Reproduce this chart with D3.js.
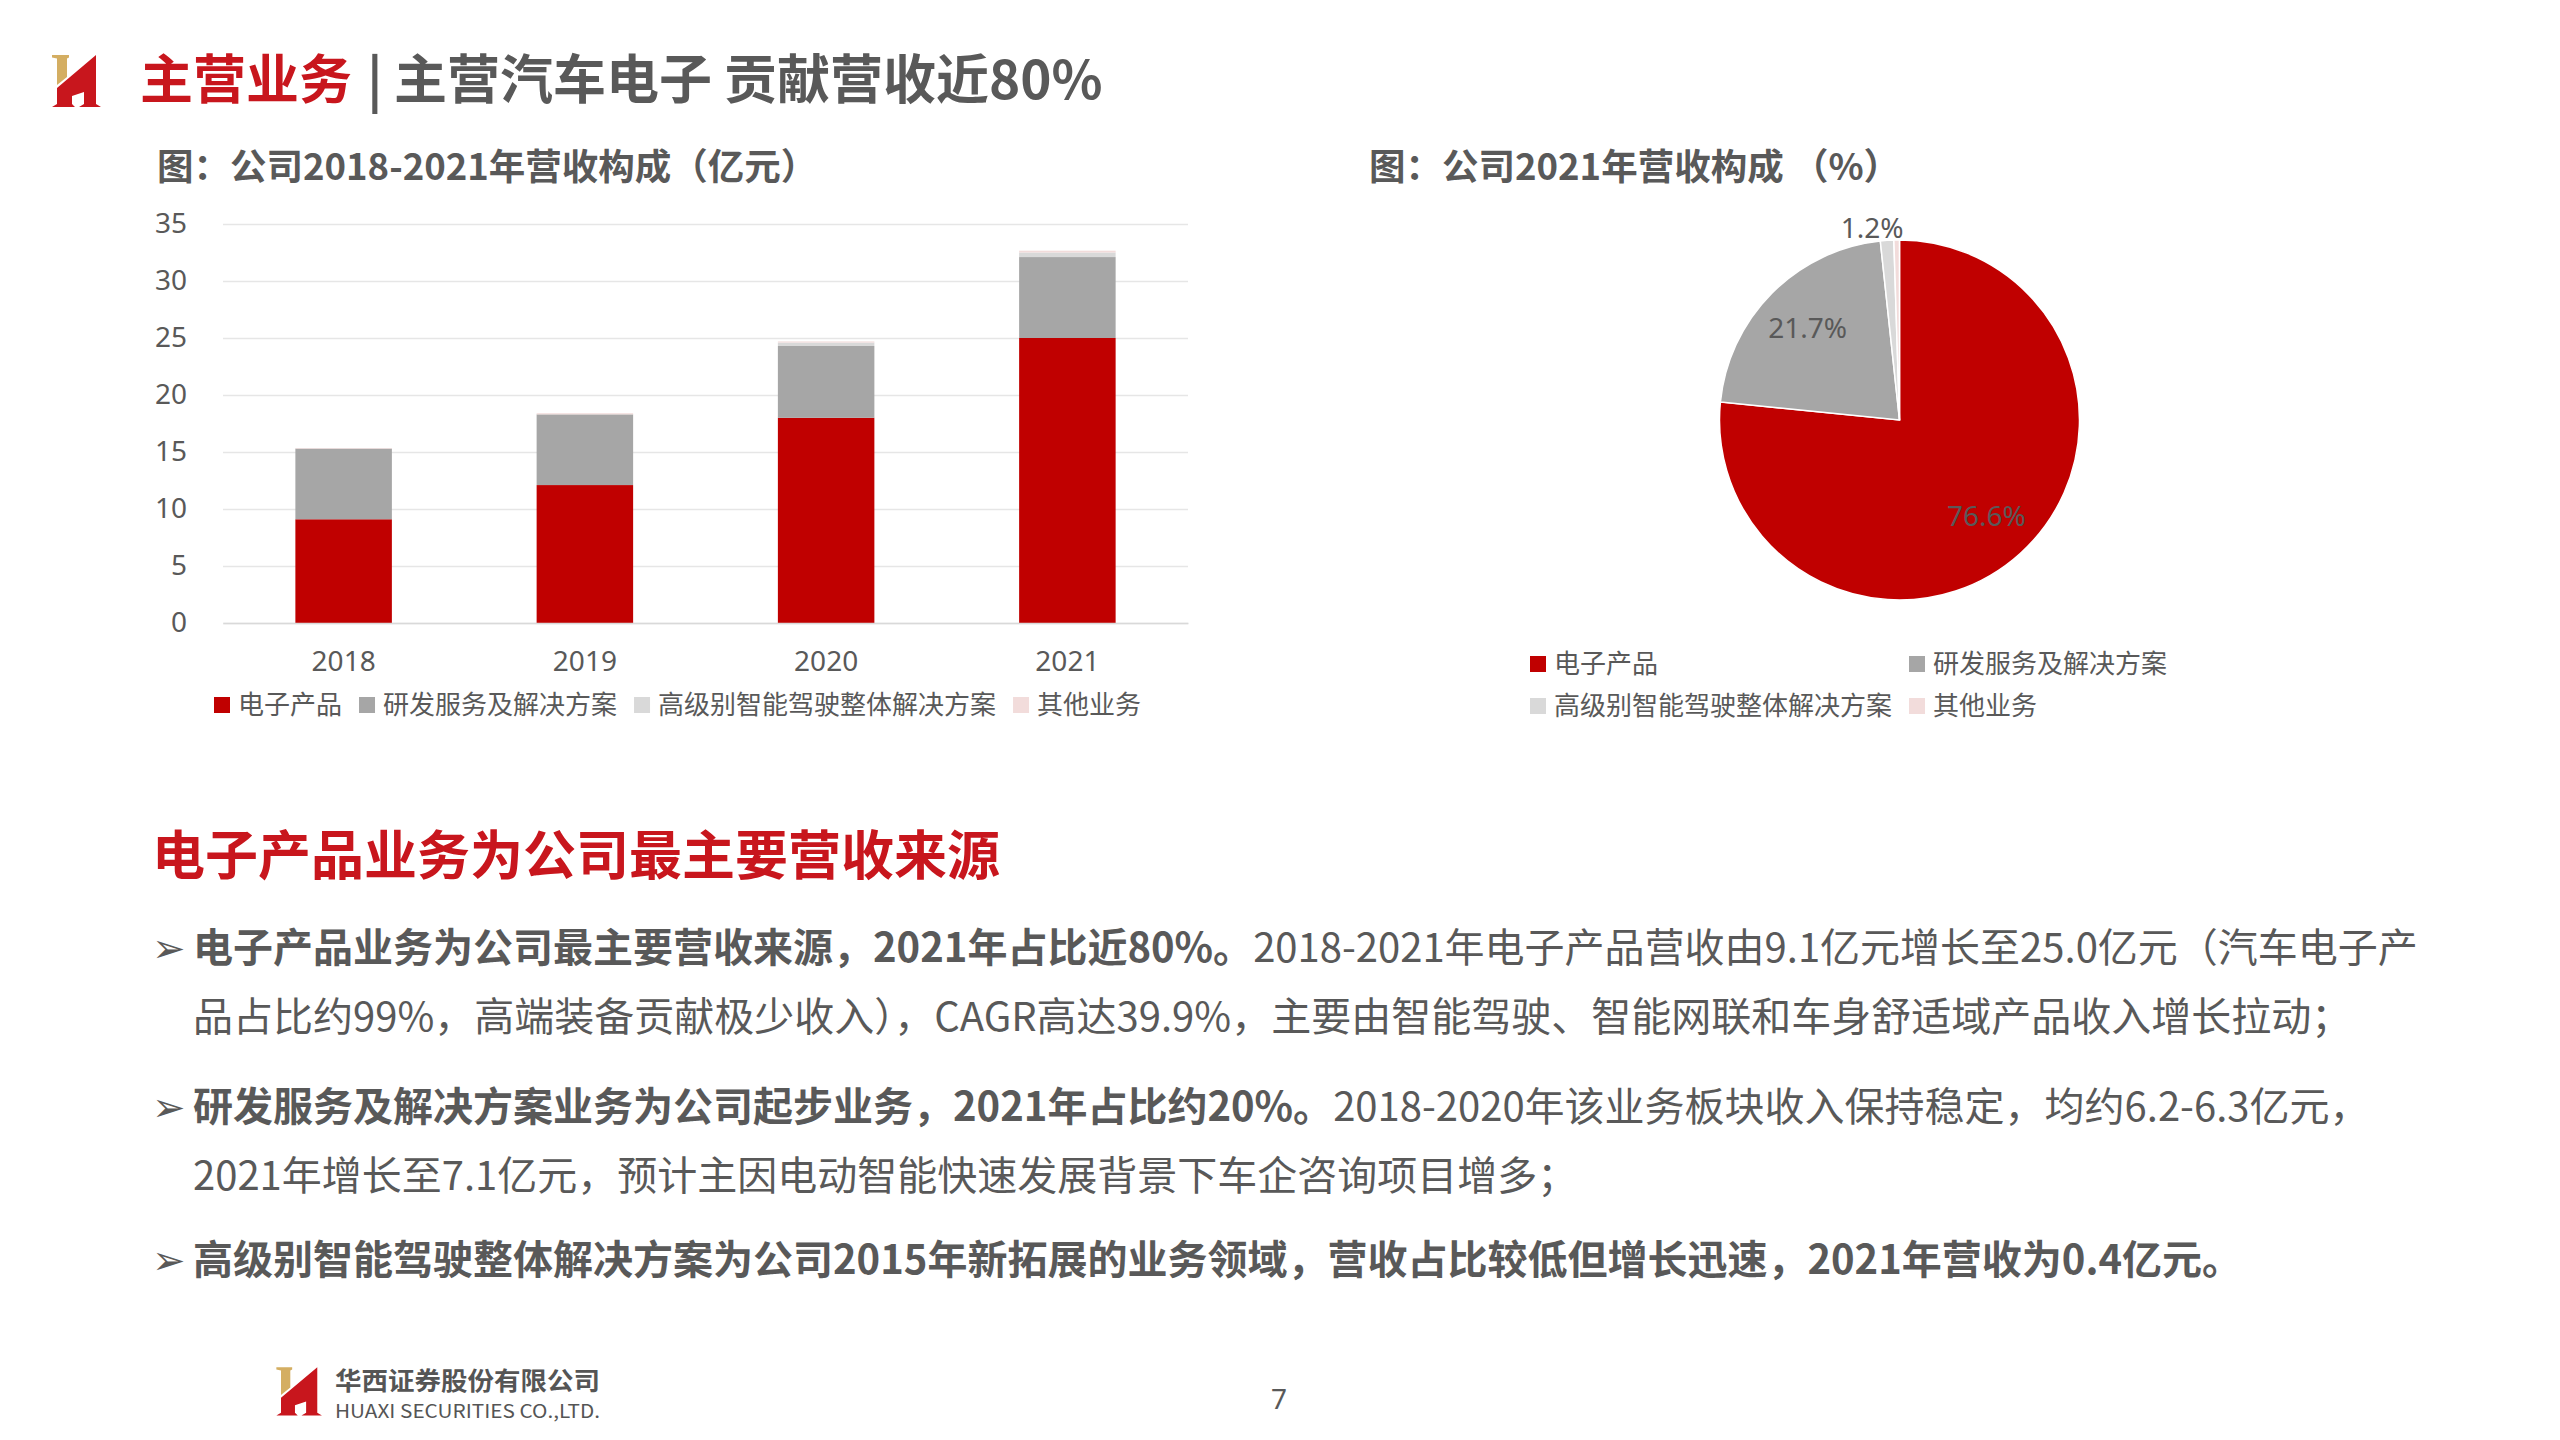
<!DOCTYPE html>
<html>
<head>
<meta charset="utf-8">
<script src="https://cdn.jsdelivr.net/npm/d3@7"></script>
<style>
  body { margin: 0; background: #fff; }
  svg { display: block; font-family: "Noto Sans CJK SC", "Noto Sans", sans-serif; }
</style>
</head>
<body>
<div id="chart"></div>
<script>
var W = 2560, H = 1440;
var gray = "#595959";
var red = "#C8161D";

// data (亿元)
var years = ["2018", "2019", "2020", "2021"];
var electronics = [9.1, 12.1, 18.0, 25.0];
var rdService = [6.2, 6.2, 6.3, 7.1];
var advDriving = [0.0, 0.0, 0.3, 0.4];
var otherBiz = [0.05, 0.1, 0.1, 0.16];
var seriesNames = ["电子产品", "研发服务及解决方案", "高级别智能驾驶整体解决方案", "其他业务"];
var seriesColors = ["#C00000", "#A6A6A6", "#D9D9D9", "#F2DCDB"];
var yTicks = [0, 5, 10, 15, 20, 25, 30, 35];

// 2021 share (%)
var pieShares = [76.6, 21.7, 1.2, 0.5];

var svg = d3.select("#chart").append("svg").attr("width", W).attr("height", H);

// ---------- logo ----------
function logo(g) {
  g.append("path")
    .attr("d", "M52,55 L69,55 L69,57.5 L67,58.5 L67,77 L57,85 L57,58.5 L52,57.5 Z")
    .attr("fill", "#D4AE62");
  g.append("path")
    .attr("d", "M57,88 L96,55 L96,104 L101,107 L79,107 L84,104 L84,92 L72,96 L72,104 L75,107 L52,107 L57,104 Z")
    .attr("fill", "#C8161D");
}
logo(svg.append("g"));
logo(svg.append("g").attr("transform", "translate(228,1316) scale(0.93)"));

// ---------- page title ----------
svg.append("text").attr("x", 140).attr("y", 99)
  .attr("font-size", 53).attr("font-weight", 700).attr("fill", red)
  .text("主营业务");
svg.append("text").attr("x", 367).attr("y", 99)
  .attr("font-size", 53).attr("font-weight", 700).attr("fill", gray)
  .text("|");
svg.append("text").attr("x", 394).attr("y", 99)
  .attr("font-size", 53).attr("font-weight", 700).attr("fill", gray)
  .text("主营汽车电子 贡献营收近80%");

// ---------- chart titles ----------
svg.append("text").attr("x", 157).attr("y", 180)
  .attr("font-size", 36.5).attr("font-weight", 700).attr("fill", gray)
  .text("图：公司2018-2021年营收构成（亿元）");
svg.append("text").attr("x", 1369).attr("y", 180)
  .attr("font-size", 36.5).attr("font-weight", 700).attr("fill", gray)
  .text("图：公司2021年营收构成 （%）");

// ---------- stacked bar chart ----------
var x = d3.scaleBand().domain(years).range([223, 1188]).padding(0);
var y = d3.scaleLinear().domain([0, 35]).range([623, 224]);
var barW = x.bandwidth() * 0.4;

var table = years.map(function (yr, i) {
  return { year: yr, s0: electronics[i], s1: rdService[i], s2: advDriving[i], s3: otherBiz[i] };
});
var stack = d3.stack().keys(["s0", "s1", "s2", "s3"])(table);

var yAxis = d3.axisLeft(y).tickValues(yTicks).tickSize(-(1188 - 223)).tickPadding(36);
var gy = svg.append("g").attr("transform", "translate(223,0)").call(yAxis);
gy.select(".domain").remove();
gy.selectAll(".tick line").attr("stroke", "#E6E6E6").attr("stroke-width", 1.5);
gy.selectAll(".tick text").attr("font-size", 28).attr("fill", gray)
  .attr("font-family", "'Noto Sans', sans-serif");

svg.append("g").selectAll("g")
  .data(stack)
  .enter()
  .append("g")
  .attr("fill", function (d, i) { return seriesColors[i]; })
  .selectAll("rect")
  .data(function (d) { return d; })
  .enter()
  .append("rect")
  .attr("x", function (d) { return x(d.data.year) + (x.bandwidth() - barW) / 2; })
  .attr("y", function (d) { return y(d[1]); })
  .attr("width", barW)
  .attr("height", function (d) { return y(d[0]) - y(d[1]); });

var xAxis = d3.axisBottom(x).tickSize(0).tickSizeOuter(0).tickPadding(28);
var gx = svg.append("g").attr("transform", "translate(0,623)").call(xAxis);
gx.select(".domain").attr("stroke", "#D9D9D9").attr("stroke-width", 1.5);
gx.selectAll(".tick text").attr("font-size", 28).attr("fill", gray)
  .attr("font-family", "'Noto Sans', sans-serif");

// bar legend, flowing
var lx = 214;
var legend1 = svg.append("g");
seriesNames.forEach(function (name, i) {
  legend1.append("rect").attr("x", lx).attr("y", 697).attr("width", 16).attr("height", 16)
    .attr("fill", seriesColors[i]);
  var t = legend1.append("text").attr("x", lx + 24).attr("y", 714)
    .attr("font-size", 26).attr("fill", gray).text(name);
  lx = lx + 24 + t.node().getComputedTextLength() + 17;
});

// ---------- pie ----------
var cx = 1899.5, cy = 420, R = 180;
var pie = d3.pie().sort(null).value(function (d) { return d; });
var arcs = pie(pieShares);
var arc = d3.arc().innerRadius(0).outerRadius(R);
var labelArc = d3.arc().innerRadius(R * 0.72).outerRadius(R * 0.72);
var outArc = d3.arc().innerRadius(R + 12).outerRadius(R + 12);

var gp = svg.append("g").attr("transform", "translate(" + cx + "," + cy + ")");
gp.selectAll("path")
  .data(arcs)
  .enter()
  .append("path")
  .attr("d", arc)
  .attr("fill", function (d, i) { return seriesColors[i]; })
  .attr("stroke", "#fff")
  .attr("stroke-width", 1.5);

gp.selectAll("text.lbl")
  .data(arcs.slice(0, 3))
  .enter()
  .append("text")
  .attr("class", "lbl")
  .attr("transform", function (d, i) {
    var c = i < 2 ? labelArc.centroid(d) : outArc.centroid(d);
    if (i === 2) c[0] -= 14;
    return "translate(" + c[0] + "," + c[1] + ")";
  })
  .attr("text-anchor", "middle")
  .attr("dy", "0.35em")
  .attr("font-size", 28)
  .attr("font-family", "'Noto Sans', sans-serif")
  .attr("fill", gray)
  .text(function (d) { return d.data.toFixed(1) + "%"; });

// pie legend, 2 x 2
var legend2 = svg.append("g");
seriesNames.forEach(function (name, i) {
  var px = i % 2 === 0 ? 1530 : 1909;
  var py = i < 2 ? 656 : 698;
  legend2.append("rect").attr("x", px).attr("y", py).attr("width", 16).attr("height", 16)
    .attr("fill", seriesColors[i]);
  legend2.append("text").attr("x", px + 24).attr("y", py + 17)
    .attr("font-size", 26).attr("fill", gray).text(name);
});

// ---------- text block ----------
svg.append("text").attr("x", 152).attr("y", 875)
  .attr("font-size", 53).attr("font-weight", 700).attr("fill", red)
  .text("电子产品业务为公司最主要营收来源");

var lines = [
  { y: 948, bullet: true, bold: "电子产品业务为公司最主要营收来源，2021年占比近80%。", rest: "2018-2021年电子产品营收由9.1亿元增长至25.0亿元（汽车电子产" },
  { y: 1017, bullet: false, bold: "", rest: "品占比约99%，高端装备贡献极少收入），CAGR高达39.9%，主要由智能驾驶、智能网联和车身舒适域产品收入增长拉动；" },
  { y: 1107, bullet: true, bold: "研发服务及解决方案业务为公司起步业务，2021年占比约20%。", rest: "2018-2020年该业务板块收入保持稳定，均约6.2-6.3亿元，" },
  { y: 1176, bullet: false, bold: "", rest: "2021年增长至7.1亿元，预计主因电动智能快速发展背景下车企咨询项目增多；" },
  { y: 1260, bullet: true, bold: "高级别智能驾驶整体解决方案为公司2015年新拓展的业务领域，营收占比较低但增长迅速，2021年营收为0.4亿元。", rest: "" }
];
var body = svg.append("g");
lines.forEach(function (ln) {
  if (ln.bullet) {
    body.append("text").attr("x", 152).attr("y", ln.y + 14)
      .attr("font-size", 40).attr("font-family", "'DejaVu Sans', sans-serif")
      .attr("fill", gray).text("➢");
  }
  var t = body.append("text").attr("x", 193).attr("y", ln.y + 14)
    .attr("font-size", 40).attr("fill", gray);
  if (ln.bold) t.append("tspan").attr("font-weight", 700).text(ln.bold);
  if (ln.rest) t.append("tspan").text(ln.rest);
});

// ---------- footer ----------
svg.append("text").attr("x", 335).attr("y", 1390)
  .attr("font-size", 25).attr("font-weight", 700).attr("fill", "#555")
  .attr("textLength", 265).attr("lengthAdjust", "spacingAndGlyphs")
  .text("华西证券股份有限公司");
svg.append("text").attr("x", 335).attr("y", 1418)
  .attr("font-size", 19).attr("fill", "#555")
  .attr("textLength", 265).attr("lengthAdjust", "spacingAndGlyphs")
  .text("HUAXI SECURITIES CO.,LTD.");
svg.append("text").attr("x", 1279).attr("y", 1409)
  .attr("font-size", 28).attr("text-anchor", "middle").attr("fill", gray)
  .attr("font-family", "'Noto Sans', sans-serif")
  .text("7");
</script>
</body>
</html>
